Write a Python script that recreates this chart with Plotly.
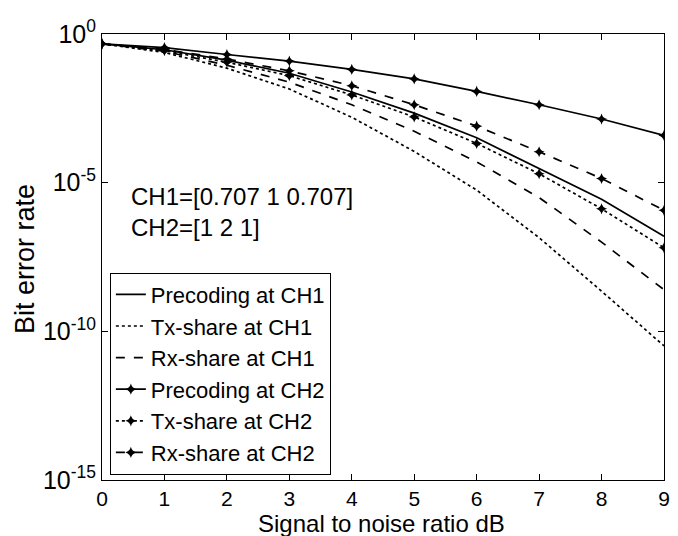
import plotly.graph_objects as go

snr = [0, 1, 2, 3, 4, 5, 6, 7, 8, 9]

# log10 of bit error rate
prec_ch1 = [-0.33, -0.53, -0.88, -1.32, -1.95, -2.66, -3.49, -4.52, -5.56, -6.8]
tx_ch1 = [-0.33, -0.62, -1.15, -1.85, -2.8, -3.95, -5.25, -6.85, -8.65, -10.49]
rx_ch1 = [-0.33, -0.58, -1.05, -1.62, -2.38, -3.27, -4.3, -5.5, -7.0, -8.6]
prec_ch2 = [-0.33, -0.46, -0.69, -0.91, -1.19, -1.51, -1.93, -2.38, -2.86, -3.41]
tx_ch2 = [-0.33, -0.56, -0.95, -1.4, -2.05, -2.79, -3.68, -4.7, -5.88, -7.19]
rx_ch2 = [-0.33, -0.52, -0.84, -1.24, -1.74, -2.38, -3.1, -3.96, -4.86, -5.93]

names = ["Precoding at CH1", "Tx-share at CH1", "Rx-share at CH1",
         "Precoding at CH2", "Tx-share at CH2", "Rx-share at CH2"]
series = [prec_ch1, tx_ch1, rx_ch1, prec_ch2, tx_ch2, rx_ch2]
dashes = ["solid", "dot", "dash", "solid", "dot", "dash"]
markers = [False, False, False, True, True, True]

ytick_vals = [1e-15, 1e-10, 1e-5, 1]
ytick_text = ["10<sup>-15</sup>", "10<sup>-10</sup>", "10<sup>-5</sup>", "10<sup>0</sup>"]
xtick_vals = snr

FONT = "Arial, Liberation Sans, sans-serif"

fig = go.Figure()
for name, vals, dash, mk in zip(names, series, dashes, markers):
    fig.add_trace(go.Scatter(
        x=snr, y=[10 ** v for v in vals], name=name,
        mode="lines+markers" if mk else "lines",
        line=dict(color="black", width=1.7, dash=dash),
        marker=dict(symbol="star-diamond", size=8, color="black"),
    ))

fig.add_annotation(x=0.44, y=-6.0, xref="x", yref="y", text="CH1=[0.707 1 0.707]<br>CH2=[1 2 1]",
                   showarrow=False, xanchor="left", yanchor="middle", align="left",
                   font=dict(family=FONT, size=24, color="black"))

# axis titles as annotations for precise placement
fig.add_annotation(x=-0.137, y=0.4955, xref="paper", yref="paper", text="Bit error rate",
                   showarrow=False, textangle=-90, xanchor="center", yanchor="middle",
                   font=dict(family=FONT, size=27, color="black"))
fig.add_annotation(x=0.498, y=-0.097, xref="paper", yref="paper", text="Signal to noise ratio dB",
                   showarrow=False, xanchor="center", yanchor="middle",
                   font=dict(family=FONT, size=24, color="black"))

axis_common = dict(showline=True, linecolor="black", linewidth=1, mirror="ticks",
                   ticks="inside", ticklen=6, tickcolor="black", showgrid=False,
                   zeroline=False)

fig.update_xaxes(range=[0, 9], tickvals=xtick_vals,
                 tickfont=dict(family=FONT, size=21, color="black"), **axis_common)
fig.update_yaxes(type="log", range=[-15, 0], tickvals=ytick_vals, ticktext=ytick_text,
                 tickfont=dict(family=FONT, size=25, color="black"), **axis_common)

fig.update_layout(
    width=670, height=528,
    margin=dict(l=94, r=8, t=24, b=56),
    paper_bgcolor="white", plot_bgcolor="white",
    font=dict(family=FONT, color="black"),
    showlegend=True,
    legend=dict(x=0.014, y=0.465, xanchor="left", yanchor="top",
                bgcolor="white", bordercolor="black", borderwidth=1,
                font=dict(family=FONT, size=22, color="black"),
                tracegroupgap=0, itemwidth=30),
)

fig.write_html("out.html")
